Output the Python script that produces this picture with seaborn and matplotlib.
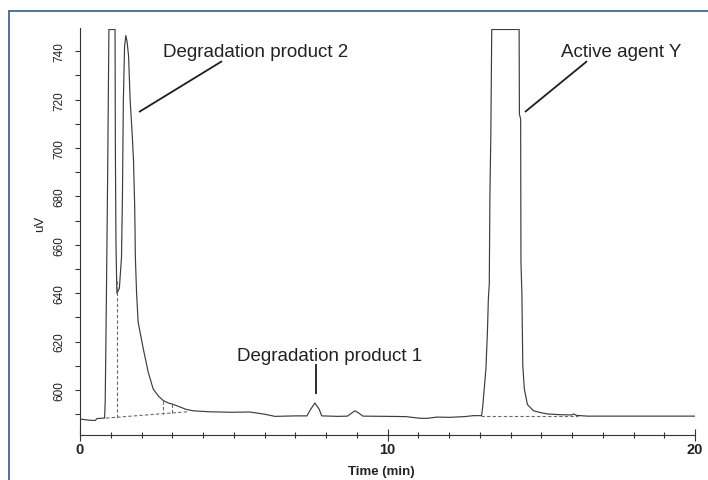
import matplotlib
matplotlib.use("Agg")
import matplotlib.pyplot as plt
import seaborn as sns
import pandas as pd
from matplotlib.lines import Line2D
from matplotlib.ticker import MultipleLocator

# ---------------- data ----------------
time_min = [0.00, 0.30, 0.50, 0.55, 0.80, 0.82, 0.86, 0.90, 0.94, 1.14, 1.15, 1.17, 1.20,
            1.28, 1.35, 1.38, 1.41, 1.45, 1.49, 1.53, 1.58, 1.63, 1.70, 1.74, 1.78, 1.80,
            1.84, 1.89, 2.06, 2.22, 2.38, 2.55, 2.71, 2.90, 3.00, 3.25, 3.45, 3.68, 4.20,
            4.90, 5.53, 6.00, 6.34, 7.00, 7.38, 7.50, 7.64, 7.78, 7.86, 8.40, 8.70, 8.85,
            8.94, 9.05, 9.20, 10.00, 10.60, 11.06, 11.30, 11.60, 12.03, 12.50, 12.80, 13.06,
            13.10, 13.20, 13.25, 13.28, 13.31, 13.33, 13.36, 13.39, 14.28, 14.29, 14.33,
            14.34, 14.37, 14.40, 14.45, 14.55, 14.75, 15.00, 15.20, 15.60, 16.00, 16.05,
            16.15, 16.50, 18.00, 20.00]
signal_uv = [588.0, 587.5, 587.4, 588.2, 588.4, 595.5, 640.0, 690.0, 749.0, 749.0, 700.0,
             660.0, 640.0, 642.0, 655.0, 680.0, 720.0, 742.0, 746.5, 744.0, 738.0, 720.0,
             705.0, 695.0, 675.0, 655.0, 640.0, 628.1, 616.9, 607.3, 600.4, 597.5, 595.6,
             594.5, 594.2, 593.0, 592.0, 591.4, 591.0, 590.8, 590.9, 590.0, 589.1, 589.3,
             589.3, 592.0, 594.6, 592.0, 589.3, 589.1, 589.2, 590.6, 591.4, 590.6, 589.2,
             589.1, 589.0, 588.3, 588.3, 588.8, 588.7, 589.0, 589.4, 589.4, 593.5, 608.7,
             624.0, 637.6, 643.8, 680.0, 705.0, 749.0, 749.0, 714.0, 712.0, 652.9, 640.0,
             610.0, 600.4, 594.0, 591.4, 590.6, 590.1, 589.8, 589.7, 590.1, 589.5, 589.2,
             589.2, 589.2]

# integration marks (dashed): segment id, time, signal
mark_seg = [0, 0, 1, 1, 2, 2, 3, 3, 4, 4]
mark_time = [0.85, 3.50, 1.19, 1.19, 2.71, 2.71, 2.98, 2.98, 13.05, 16.20]
mark_uv = [588.4, 591.0, 645.0, 588.6, 595.6, 590.1, 594.2, 590.2, 589.4, 589.4]

# peak labels
label_text = ["Degradation product 2", "Active agent Y", "Degradation product 1"]
label_time = [5.72, 17.59, 8.10]
label_uv = [738.2, 738.2, 612.2]
leader_t0 = [1.92, 14.47, 7.66]
leader_uv0 = [714.9, 714.9, 598.3]
leader_t1 = [4.62, 16.49, 7.66]
leader_uv1 = [735.9, 735.9, 610.7]

x_major = [0, 10, 20]
y_major = [600, 620, 640, 660, 680, 700, 720, 740]

# ---------------- plot ----------------
sns.set_style("ticks")
plt.rcParams["font.family"] = ["Liberation Sans", "DejaVu Sans"]

W, H = 708, 481
fig = plt.figure(figsize=(W / 100, H / 100), dpi=100)
fig.patch.set_facecolor("white")
ax = fig.add_axes([80 / W, 1 - 436 / H, (695 - 80) / W, (436 - 29.5) / H])

trace = pd.DataFrame({"t": time_min, "uv": signal_uv})
sns.lineplot(data=trace, x="t", y="uv", sort=False, estimator=None,
             color="#3c3c3c", linewidth=0.85, ax=ax)

marks = pd.DataFrame({"seg": mark_seg, "t": mark_time, "uv": mark_uv})
sns.lineplot(data=marks, x="t", y="uv", units="seg", estimator=None, sort=False,
             color="#6a6a6a", linewidth=0.8, linestyle=(0, (3, 2)), ax=ax)

for txt, tx, ty, a0, b0, a1, b1 in zip(label_text, label_time, label_uv,
                                       leader_t0, leader_uv0, leader_t1, leader_uv1):
    ax.text(tx, ty, txt, ha="center", va="baseline", fontsize=13.5, color="#222222")
    ax.plot([a0, a1], [b0, b1], color="#1e1e1e", linewidth=1.3, solid_capstyle="butt")

ax.set_xlim(0, 20)
ax.set_ylim(581.4, 749.4)
sns.despine(ax=ax)
for s in ("left", "bottom"):
    ax.spines[s].set_linewidth(0.8)
    ax.spines[s].set_color("#333333")

ax.set_xticks(x_major)
ax.set_xticklabels([str(v) for v in x_major])
ax.xaxis.set_minor_locator(MultipleLocator(1))
ax.set_yticks(y_major)
ax.set_yticklabels([str(v) for v in y_major])
ax.yaxis.set_minor_locator(MultipleLocator(10))

ax.tick_params(axis="x", which="major", direction="inout", length=8, width=0.8,
               color="#333333", labelsize=10.5, pad=1, labelcolor="#222222")
ax.tick_params(axis="x", which="minor", direction="inout", length=4, width=0.8,
               color="#333333")
ax.tick_params(axis="y", which="both", direction="out", length=3.5, width=0.8,
               color="#333333")
ax.tick_params(axis="y", which="major", labelsize=8.5, pad=7, labelrotation=90,
               labelcolor="#222222")
for lbl in ax.get_xticklabels():
    lbl.set_fontweight("bold")
for lbl in ax.get_yticklabels():
    lbl.set_va("center")

ax.set_xlabel("Time (min)", fontsize=9.5, fontweight="bold", color="#222222")
ax.xaxis.set_label_coords((381.7 - 80) / 615, -0.073)
ax.set_ylabel("uV", fontsize=9.5, color="#222222")
ax.yaxis.set_label_coords((46.5 - 80) / 615, 0.5215)

# blue page frame (left and top edges visible)
fx = 8.5 / W
fy = 1 - 12 / H
fig.add_artist(Line2D([fx, fx], [0, fy], color="#3b6a98", linewidth=1.3))
fig.add_artist(Line2D([fx, 1], [fy, fy], color="#3b6a98", linewidth=1.3))

fig.savefig("out.png", dpi=100, facecolor="white")
